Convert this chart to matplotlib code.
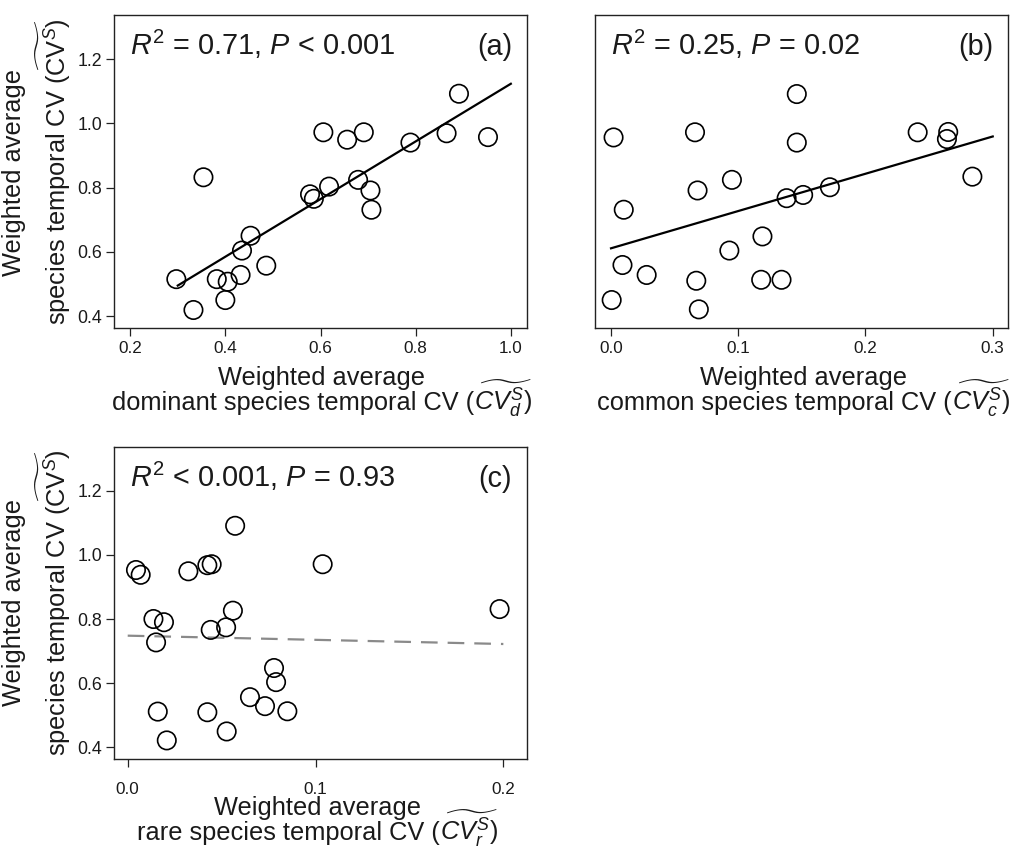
import numpy as np
import matplotlib
matplotlib.use("Agg")
import matplotlib.pyplot as plt

plt.rcParams['font.family'] = ['Liberation Sans', 'DejaVu Sans']
plt.rcParams['mathtext.fontset'] = 'custom'
plt.rcParams['mathtext.rm'] = 'Liberation Sans'
plt.rcParams['mathtext.it'] = 'Liberation Sans:italic'
plt.rcParams['mathtext.bf'] = 'Liberation Sans:bold'

# ---------------- data ----------------
# panel (a): dominant species CV vs community-weighted species CV
dom_x = [0.297, 0.333, 0.354, 0.382, 0.405, 0.400, 0.432, 0.435, 0.453, 0.486,
         0.578, 0.586, 0.606, 0.618, 0.656, 0.691, 0.679, 0.705, 0.707, 0.789,
         0.865, 0.891, 0.952]
dom_y = [0.515, 0.419, 0.832, 0.515, 0.507, 0.450, 0.528, 0.604, 0.650, 0.557,
         0.779, 0.765, 0.972, 0.803, 0.949, 0.972, 0.824, 0.791, 0.731, 0.940,
         0.969, 1.092, 0.957]

# panel (b): common species
com_x = [0.002, 0.0005, 0.010, 0.009, 0.028, 0.066, 0.068, 0.067, 0.069, 0.095,
         0.093, 0.119, 0.118, 0.134, 0.138, 0.151, 0.146, 0.146, 0.172, 0.241,
         0.265, 0.264, 0.284]
com_y = [0.956, 0.450, 0.731, 0.559, 0.528, 0.972, 0.791, 0.510, 0.421, 0.824,
         0.604, 0.648, 0.513, 0.513, 0.767, 0.777, 1.091, 0.940, 0.801, 0.972,
         0.973, 0.951, 0.834]

# panel (c): rare species
rare_x = [0.0044, 0.0069, 0.0137, 0.0193, 0.0151, 0.0160, 0.0208, 0.0323, 0.0424,
          0.0447, 0.0442, 0.0524, 0.0560, 0.0572, 0.0424, 0.0527, 0.0651, 0.0731,
          0.0779, 0.0790, 0.0850, 0.1038, 0.1980]
rare_y = [0.953, 0.938, 0.800, 0.790, 0.727, 0.511, 0.421, 0.949, 0.968, 0.971,
          0.766, 0.774, 0.826, 1.091, 0.509, 0.449, 0.556, 0.528, 0.647, 0.603,
          0.512, 0.971, 0.831]

# fitted regression lines (intercept, slope, x range)
fit_a = (0.226, 0.897, 0.30, 1.00)
fit_b = (0.611, 1.16, 0.00, 0.30)
fit_c = (0.748, -0.13, 0.00, 0.20)

stats_a = r'$R^2$ = 0.71, $P$ < 0.001'
stats_b = r'$R^2$ = 0.25, $P$ = 0.02'
stats_c = r'$R^2$ < 0.001, $P$ = 0.93'

xticks_a = [0.2, 0.4, 0.6, 0.8, 1.0]
xticks_b = [0.0, 0.1, 0.2, 0.3]
xticks_c = [0.0, 0.1, 0.2]
yticks = [0.4, 0.6, 0.8, 1.0, 1.2]

# ---------------- layout ----------------
W, H = 1019, 855
fig = plt.figure(figsize=(W / 100, H / 100), dpi=100)
renderer = fig.canvas.get_renderer()


def fx(px):
    return px / W


def fy(py):
    return 1 - py / H


def make_ax(l, t, r, b):
    return fig.add_axes([fx(l), fy(b), fx(r) - fx(l), (b - t) / H])


ax_a = make_ax(114, 15, 527, 328)
ax_b = make_ax(595, 15, 1008, 328)
ax_c = make_ax(114, 447, 527, 759)

YLIM = (0.363, 1.337)
TXT = '#1a1a1a'
LAB = 18.3


def style(ax, xlim, xticks, show_y=True, xpad=4):
    ax.set_xlim(*xlim)
    ax.set_ylim(*YLIM)
    ax.set_xticks(xticks)
    ax.set_xticklabels([f'{v:.1f}' for v in xticks])
    ax.set_yticks(yticks)
    ax.set_yticklabels([f'{v:.1f}' for v in yticks])
    for s in ax.spines.values():
        s.set_linewidth(1.0)
        s.set_color('#222222')
    ax.tick_params(axis='x', direction='out', length=5.5, width=0.9, pad=xpad,
                   labelsize=12.3, colors='#222222', labelcolor=TXT)
    if show_y:
        ax.tick_params(axis='y', direction='out', length=5.5, width=0.9, pad=3,
                       labelsize=12.8, colors='#222222', labelcolor=TXT)
    else:
        ax.tick_params(axis='y', left=False, labelleft=False)


def scatter_fit(ax, x, y, fit, dashed=False):
    b0, b1, x0, x1 = fit
    xs = np.array([x0, x1])
    if dashed:
        ax.plot(xs, b0 + b1 * xs, color='#8a8a8a', lw=1.6, dashes=(7.5, 4.5), zorder=2)
    else:
        ax.plot(xs, b0 + b1 * xs, color='black', lw=1.6, zorder=2)
    ax.scatter(x, y, s=175, facecolors='none', edgecolors='black',
               linewidths=1.2, zorder=3)


def annotate(ax, stats, tag):
    h = ax.bbox.height
    w = ax.bbox.width
    ax.text(16 / w, 1 - 40 / h, stats, transform=ax.transAxes, fontsize=20.8,
            ha='left', va='baseline', color=TXT)
    ax.text(1 - 15 / w, 1 - 40 / h, tag, transform=ax.transAxes, fontsize=20.8,
            ha='right', va='baseline', color=TXT)


def xlabel(cx, base_py, words, sym):
    fig.text(fx(cx), fy(base_py), 'Weighted average', fontsize=LAB,
             ha='center', va='baseline', color=TXT)
    y2 = fy(base_py + 25)
    t1 = fig.text(0, y2, words, fontsize=LAB, ha='left', va='baseline', color=TXT)
    t2 = fig.text(0, y2, sym, fontsize=LAB, ha='left', va='baseline', color=TXT)
    w1 = t1.get_window_extent(renderer).width
    w2 = t2.get_window_extent(renderer).width
    left = cx - (w1 + w2) / 2
    t1.set_x(fx(left))
    t2.set_x(fx(left + w1))


def ylabel(cy):
    fig.text(fx(21), fy(cy), 'Weighted average', fontsize=LAB, rotation=90,
             rotation_mode='anchor', ha='center', va='baseline', color=TXT)
    fig.text(fx(66), fy(cy), r'species temporal CV ($\widetilde{\mathrm{CV}^S}$)',
             fontsize=LAB, rotation=90, rotation_mode='anchor', ha='center',
             va='baseline', color=TXT)


# panel a
style(ax_a, (0.166, 1.034), xticks_a, xpad=4)
scatter_fit(ax_a, dom_x, dom_y, fit_a)
annotate(ax_a, stats_a, '(a)')

# panel b
style(ax_b, (-0.0126, 0.312), xticks_b, show_y=False, xpad=4)
scatter_fit(ax_b, com_x, com_y, fit_b)
annotate(ax_b, stats_b, '(b)')

# panel c
style(ax_c, (-0.0073, 0.2126), xticks_c, xpad=11)
scatter_fit(ax_c, rare_x, rare_y, fit_c, dashed=True)
annotate(ax_c, stats_c, '(c)')

xlabel(322, 385, 'dominant species temporal CV (', r'$\widetilde{CV_d^S}$)')
xlabel(804, 385, 'common species temporal CV (', r'$\widetilde{CV_c^S}$)')
xlabel(318, 815, 'rare species temporal CV (', r'$\widetilde{CV_r^S}$)')
ylabel(172)
ylabel(603)

fig.savefig('out.png', dpi=100, facecolor='white')
